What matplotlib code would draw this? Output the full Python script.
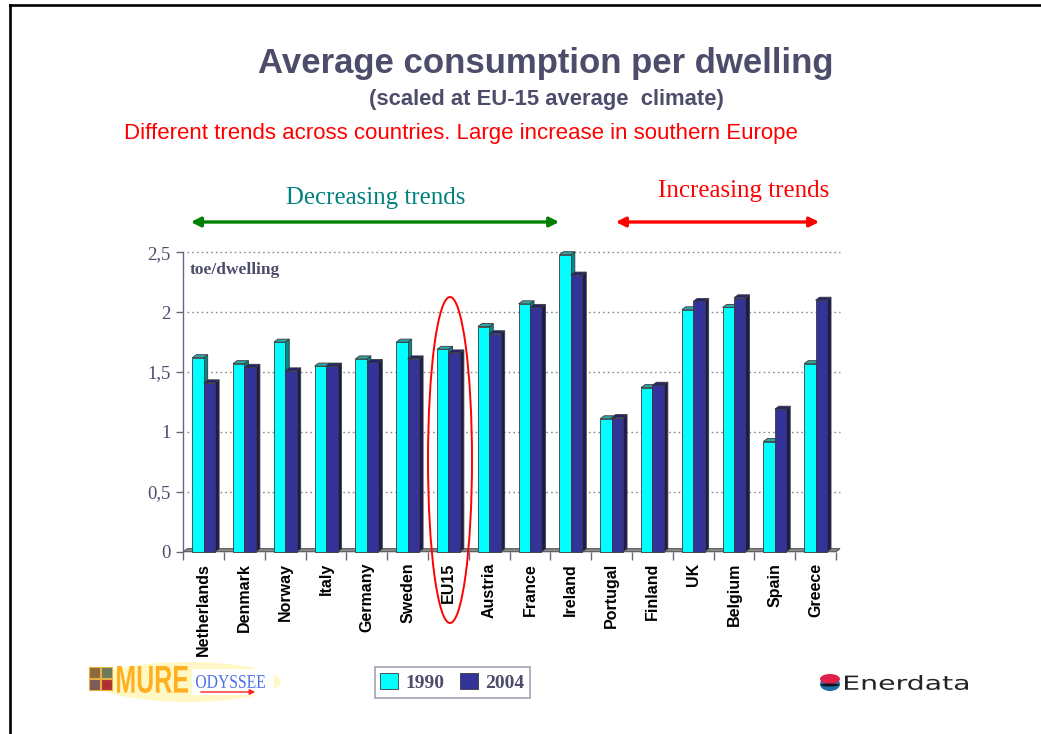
import matplotlib
matplotlib.use("Agg")
import matplotlib.pyplot as plt
from matplotlib.patches import (Polygon, Ellipse, FancyArrowPatch, Rectangle, Patch,
                                Circle, PathPatch)
from matplotlib.lines import Line2D
from matplotlib.textpath import TextPath
from matplotlib.font_manager import FontProperties
from matplotlib.transforms import Affine2D, IdentityTransform

# Average consumption per dwelling (toe/dwelling), climate-corrected
countries = ["Netherlands", "Denmark", "Norway", "Italy", "Germany", "Sweden", "EU15",
             "Austria", "France", "Ireland", "Portugal", "Finland", "UK", "Belgium",
             "Spain", "Greece"]
values_1990 = [1.62, 1.57, 1.75, 1.55, 1.61, 1.75, 1.69, 1.88, 2.07, 2.48,
               1.11, 1.37, 2.02, 2.04, 0.92, 1.57]
values_2004 = [1.41, 1.54, 1.51, 1.55, 1.58, 1.61, 1.66, 1.82, 2.04, 2.31,
               1.12, 1.39, 2.09, 2.12, 1.19, 2.10]
years = ["1990", "2004"]
y_ticks = [0, 0.5, 1, 1.5, 2, 2.5]
y_tick_labels = ["0", "0,5", "1", "1,5", "2", "2,5"]

W, H, DPI = 1041, 734, 100
fig = plt.figure(figsize=(W / DPI, H / DPI), dpi=DPI)
fig.patch.set_facecolor("white")

def fx(px):
    return px / W

def fy(py):
    return 1 - py / H

def fitted_text(s, x0, x1, y_top, y_bottom, prop, color):
    """Draw a text outline stretched into a pixel box (top-left origin)."""
    tp = TextPath((0, 0), s, size=10, prop=prop)
    ext = tp.get_extents()
    sx = (x1 - x0) / ext.width
    sy = (y_bottom - y_top) / ext.height
    tr = (Affine2D().translate(-ext.x0, -ext.y0).scale(sx, sy)
          .translate(x0, H - y_bottom))
    fig.add_artist(PathPatch(tr.transform_path(tp), facecolor=color, edgecolor="none",
                             transform=IdentityTransform()))

TXT = "#4d4d6b"
C_FRONT = ["#00ffff", "#333399"]
C_SIDE = ["#008a8a", "#1c1c55"]
C_TOP = ["#2fa6a6", "#24246e"]
EDGE = "#3a3a3a"

# slide frame (left and top rules)
fig.add_artist(Line2D([fx(9.5), fx(9.5)], [0, fy(4.5)], color="black", lw=1.9,
                      transform=fig.transFigure))
fig.add_artist(Line2D([fx(9.5), 1], [fy(4.5), fy(4.5)], color="black", lw=1.9,
                      transform=fig.transFigure))

# headings
fig.text(fx(546), fy(64), "Average consumption per dwelling", ha="center", va="center",
         fontsize=25, fontweight="bold", family="Liberation Sans", color=TXT)
fig.text(fx(546), fy(99), "(scaled at EU-15 average  climate)", ha="center", va="center",
         fontsize=15.8, fontweight="bold", family="Liberation Sans", color=TXT)
fig.text(fx(124), fy(133), "Different trends across countries. Large increase in southern Europe",
         ha="left", va="center", fontsize=16, family="Liberation Sans", color="#ff0000")

fig.text(fx(376), fy(198), "Decreasing trends", ha="center", va="center",
         fontsize=17.9, family="Liberation Serif", color="#008080")
fig.text(fx(744), fy(191), "Increasing trends", ha="center", va="center",
         fontsize=17.9, family="Liberation Serif", color="#ff0000")
fig.add_artist(FancyArrowPatch((fx(188), fy(222)), (fx(562), fy(222)), arrowstyle="<|-|>",
                               mutation_scale=14, lw=2.4, color="#008000",
                               transform=fig.transFigure))
fig.add_artist(FancyArrowPatch((fx(613), fy(222)), (fx(822), fy(222)), arrowstyle="<|-|>",
                               mutation_scale=14, lw=2.4, color="#ff0000",
                               transform=fig.transFigure))

# chart area
ax_left, ax_right, ax_top, ax_bottom = 183.3, 836.0, 252.3, 551.7
ax = fig.add_axes([fx(ax_left), fy(ax_bottom), fx(ax_right - ax_left), (ax_bottom - ax_top) / H])
n = len(countries)
ax.set_xlim(0, n)
ax.set_ylim(0, 2.5)
for s in ["top", "right", "bottom"]:
    ax.spines[s].set_visible(False)
ax.spines["left"].set_color("#666680")
ax.spines["left"].set_linewidth(1.0)

# depth of the pseudo-3D extrusion, converted from pixels to data units
pos = ax.get_position()
px_per_x = pos.width * W / n
px_per_y = pos.height * H / 2.5
dx = 4.0 / px_per_x
dy = 3.0 / px_per_y

# back-wall grid
for yv in y_ticks[1:]:
    ax.plot([dx, n + dx], [yv, yv], ls=(0, (1.2, 2.2)), color="#8a8a8a", lw=1.0,
            clip_on=False, zorder=1)

# floor
ax.add_patch(Polygon([(0, 0), (n, 0), (n + dx, dy), (dx, dy)], closed=True,
                     facecolor="#8c8c8c", edgecolor="#555555", lw=0.8, clip_on=False, zorder=2))

bw = 0.28
centers = [i + 0.5 for i in range(n)]
for k, vals in enumerate([values_1990, values_2004]):
    lefts = [c - bw + k * bw for c in centers]
    ax.bar(lefts, vals, width=bw, align="edge", color=C_FRONT[k], edgecolor=EDGE,
           linewidth=0.6, zorder=4 + 2 * k, clip_on=False)
    for x0, h in zip(lefts, vals):
        ax.add_patch(Polygon([(x0 + bw, 0), (x0 + bw + dx, dy), (x0 + bw + dx, h + dy), (x0 + bw, h)],
                             closed=True, facecolor=C_SIDE[k], edgecolor=EDGE, lw=0.6,
                             clip_on=False, zorder=3 + 2 * k))
        ax.add_patch(Polygon([(x0, h), (x0 + dx, h + dy), (x0 + bw + dx, h + dy), (x0 + bw, h)],
                             closed=True, facecolor=C_TOP[k], edgecolor=EDGE, lw=0.6,
                             clip_on=False, zorder=3 + 2 * k))

# axes ticks and labels
ax.set_yticks(y_ticks)
ax.set_yticklabels(y_tick_labels, family="Liberation Serif", fontsize=13.5, color=TXT)
ax.tick_params(axis="y", length=5, width=1, color="#666680", pad=4)
ax.set_xticks(centers)
ax.set_xticklabels(countries, rotation=90, fontsize=11.5, fontweight="bold",
                   family="Liberation Sans", color="black", va="top")
ax.tick_params(axis="x", which="major", length=0, pad=8)
ax.set_xticks(range(n + 1), minor=True)
ax.tick_params(axis="x", which="minor", length=6, width=1, color="#666680")
ax.patch.set_alpha(0)

fig.text(fx(190), fy(270), "toe/dwelling", ha="left", va="center", fontsize=12.5,
         fontweight="bold", family="Liberation Serif", color=TXT)

# highlight around the EU15 pair
fig.add_artist(Ellipse((fx(450), fy(460)), fx(44), 326 / H, fill=False,
                       edgecolor="#ff0000", lw=1.4, transform=fig.transFigure, zorder=20))

# legend
handles = [Patch(facecolor=C_FRONT[i], edgecolor=EDGE, lw=0.6) for i in range(2)]
leg = fig.legend(handles, years, loc="center", bbox_to_anchor=(fx(452.5), fy(682.5)), ncol=2,
                 frameon=True, fancybox=False, handlelength=0.9, handleheight=0.9,
                 handletextpad=0.4, columnspacing=0.8, borderpad=0.3,
                 prop={"family": "Liberation Serif", "weight": "bold", "size": 14})
leg.get_frame().set_edgecolor("#8a8aa0")
leg.get_frame().set_linewidth(1.2)
for t in leg.get_texts():
    t.set_color(TXT)

# MURE / ODYSSEE badge
fig.add_artist(Ellipse((fx(188), fy(682)), fx(185), 40 / H, facecolor="#fff6b0",
                       edgecolor="none", alpha=0.75, transform=fig.transFigure))
tile_cols = ["#8a6a3a", "#6d7a5a", "#7a5a5a", "#b03030"]
for j, col in enumerate(tile_cols):
    cx = 89 + (j % 2) * 12
    cy = 667 + (j // 2) * 12
    fig.add_artist(Rectangle((fx(cx), fy(cy + 11)), fx(11), 11 / H, facecolor=col,
                             edgecolor="#e8b040", lw=0.8, transform=fig.transFigure))
fitted_text("MURE", 117, 188, 666, 693,
            FontProperties(family="Liberation Sans", weight="bold"), "#ffb020")
fig.add_artist(Rectangle((fx(192), fy(695)), fx(82), 26 / H, facecolor="white",
                         edgecolor="none", transform=fig.transFigure))
fitted_text("ODYSSEE", 196, 265, 675, 688,
            FontProperties(family="Liberation Serif"), "#4a6ee8")
fig.add_artist(FancyArrowPatch((fx(198), fy(692)), (fx(258), fy(692)), arrowstyle="-|>",
                               mutation_scale=8, lw=1.0, color="#ff2020",
                               transform=fig.transFigure))

# Enerdata mark
fig.add_artist(Circle((fx(830), fy(684)), 10 / W, facecolor="#1f6fa8", edgecolor="none",
                      transform=fig.transFigure))
fig.add_artist(Ellipse((fx(830), fy(679)), fx(20), 10 / H, facecolor="#e0204a",
                       edgecolor="none", transform=fig.transFigure))
fig.add_artist(Ellipse((fx(830), fy(685)), fx(19), 3 / H, facecolor="#111122",
                       edgecolor="none", transform=fig.transFigure))
fitted_text("Enerdata", 845, 968, 675, 690,
            FontProperties(family="DejaVu Sans"), "#222222")

fig.savefig("out.png", dpi=DPI, facecolor="white")
